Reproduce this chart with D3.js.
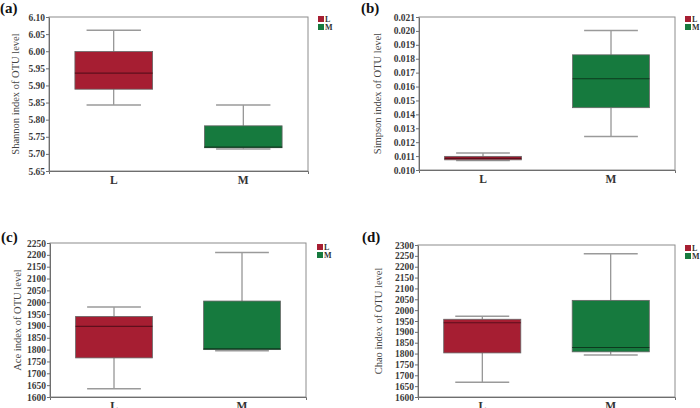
<!DOCTYPE html>
<html>
<head>
<meta charset="utf-8">
<script src="https://cdn.jsdelivr.net/npm/d3@7"></script>
<style>
  body { margin: 0; background: #fff; }
</style>
</head>
<body>
<div id="chart"></div>
<script>
// box stats per group: [min, q1, median, q3, max]
const groups = ["L", "M"];
const colors = ["#a61e32", "#167a3e"];
const medianColors = ["#5e0f1c", "#0c3a1e"];

const shannonStats = [[5.843, 5.889, 5.936, 5.999, 6.061], [5.714, 5.718, 5.720, 5.782, 5.843]];
const simpsonStats = [[0.01068, 0.01073, 0.01083, 0.01098, 0.01122], [0.01240, 0.01448, 0.01656, 0.01828, 0.02003]];
const aceStats = [[1635, 1765, 1898, 1940, 1980], [1795, 1800, 1803, 2005, 2210]];
const chaoStats = [[1668, 1803, 1942, 1958, 1972], [1793, 1808, 1828, 2045, 2260]];

const shannonTicks = [5.65, 5.70, 5.75, 5.80, 5.85, 5.90, 5.95, 6.00, 6.05, 6.10];
const simpsonTicks = [0.010, 0.011, 0.012, 0.013, 0.014, 0.015, 0.016, 0.017, 0.018, 0.019, 0.020, 0.021];
const aceTicks = d3.range(1600, 2251, 50);
const chaoTicks = d3.range(1600, 2301, 50);

const serif = "'Liberation Serif', 'Times New Roman', 'DejaVu Serif', serif";

const panels = [
  { tag: "(a)", title: "Shannon index of OTU level", stats: shannonStats, ticks: shannonTicks, fmt: d3.format(".2f"),
    x0: 49, x1: 308, y0: 17, y1: 171, tagX: 0, tagY: 13, titleX: 15, legX: 318, legY: 15 },
  { tag: "(b)", title: "Simpson index of OTU level", stats: simpsonStats, ticks: simpsonTicks, fmt: d3.format(".3f"),
    x0: 419, x1: 675, y0: 17, y1: 170, tagX: 361, tagY: 13, titleX: 377, legX: 685, legY: 15 },
  { tag: "(c)", title: "Ace index of OTU level", stats: aceStats, ticks: aceTicks, fmt: d3.format("d"),
    x0: 50, x1: 306, y0: 243, y1: 397, tagX: 1, tagY: 242, titleX: 17, legX: 317, legY: 243 },
  { tag: "(d)", title: "Chao index of OTU level", stats: chaoStats, ticks: chaoTicks, fmt: d3.format("d"),
    x0: 418, x1: 675, y0: 245, y1: 397, tagX: 362, tagY: 242, titleX: 378, legX: 685, legY: 244 }
];

const svg = d3.select("#chart").append("svg")
  .attr("width", 700)
  .attr("height", 408)
  .attr("font-family", serif);

panels.forEach(p => {
  const g = svg.append("g");

  const x = d3.scaleBand().domain(groups).range([p.x0, p.x1]);
  const y = d3.scaleLinear()
    .domain([p.ticks[0], p.ticks[p.ticks.length - 1]])
    .range([p.y1, p.y0]);

  // frame
  g.append("rect")
    .attr("x", p.x0).attr("y", p.y0)
    .attr("width", p.x1 - p.x0).attr("height", p.y1 - p.y0)
    .attr("fill", "none").attr("stroke", "#8c8c8c").attr("stroke-width", 1);

  // y axis
  const yAxis = g.append("g")
    .attr("transform", `translate(${p.x0},0)`)
    .call(d3.axisLeft(y).tickValues(p.ticks).tickFormat(p.fmt).tickSize(3).tickSizeOuter(0));
  yAxis.attr("font-family", serif);
  yAxis.select(".domain").attr("stroke", "#6e6e6e");
  yAxis.selectAll(".tick line").attr("stroke", "#6e6e6e");
  yAxis.selectAll("text")
    .attr("x", -4)
    .style("font-size", "9.5px")
    .style("font-weight", "bold")
    .attr("fill", "#3a3a3a");

  // x axis
  const xAxis = g.append("g")
    .attr("transform", `translate(0,${p.y1})`)
    .call(d3.axisBottom(x).tickSize(0).tickSizeOuter(3));
  xAxis.attr("font-family", serif);
  xAxis.select(".domain").attr("stroke", "#6e6e6e");
  xAxis.selectAll("text")
    .attr("dy", "0.95em")
    .attr("y", 2)
    .style("font-size", "11.5px")
    .style("font-weight", "bold")
    .attr("fill", "#333");

  // y title
  g.append("text")
    .attr("transform", `translate(${p.titleX},${(p.y0 + p.y1) / 2}) rotate(-90)`)
    .attr("text-anchor", "middle")
    .attr("dy", "0.35em")
    .style("font-size", "10.5px")
    .attr("fill", "#444")
    .text(p.title);

  // panel tag
  g.append("text")
    .attr("x", p.tagX).attr("y", p.tagY)
    .style("font-size", "15px")
    .style("font-weight", "bold")
    .attr("fill", "#111")
    .text(p.tag);

  // boxes
  const bw = x.bandwidth() * 0.6;
  const cw = x.bandwidth() * 0.42;
  groups.forEach((grp, i) => {
    const s = p.stats[i];
    const cx = x(grp) + x.bandwidth() / 2;
    // whisker stems
    g.append("line")
      .attr("x1", cx).attr("x2", cx)
      .attr("y1", y(s[4])).attr("y2", y(s[3]))
      .attr("stroke", "#777").attr("stroke-width", 1);
    g.append("line")
      .attr("x1", cx).attr("x2", cx)
      .attr("y1", y(s[1])).attr("y2", y(s[0]))
      .attr("stroke", "#777").attr("stroke-width", 1);
    // caps
    [s[0], s[4]].forEach(v => {
      g.append("line")
        .attr("x1", cx - cw / 2).attr("x2", cx + cw / 2)
        .attr("y1", y(v)).attr("y2", y(v))
        .attr("stroke", "#9a9a9a").attr("stroke-width", 1.5);
    });
    // box
    g.append("rect")
      .attr("x", cx - bw / 2).attr("y", y(s[3]))
      .attr("width", bw).attr("height", Math.max(1, y(s[1]) - y(s[3])))
      .attr("fill", colors[i])
      .attr("stroke", "#666").attr("stroke-width", 0.8);
    // median
    g.append("line")
      .attr("x1", cx - bw / 2).attr("x2", cx + bw / 2)
      .attr("y1", y(s[2])).attr("y2", y(s[2]))
      .attr("stroke", medianColors[i]).attr("stroke-width", 1.2);
  });

  // legend
  groups.forEach((grp, i) => {
    g.append("rect")
      .attr("x", p.legX).attr("y", p.legY + i * 8 + 1)
      .attr("width", 6).attr("height", 6)
      .attr("fill", colors[i]);
    g.append("text")
      .attr("x", p.legX + 7).attr("y", p.legY + i * 8 + 7)
      .style("font-size", "8px")
      .style("font-weight", "bold")
      .attr("fill", "#333")
      .text(grp);
  });
});
</script>
</body>
</html>
